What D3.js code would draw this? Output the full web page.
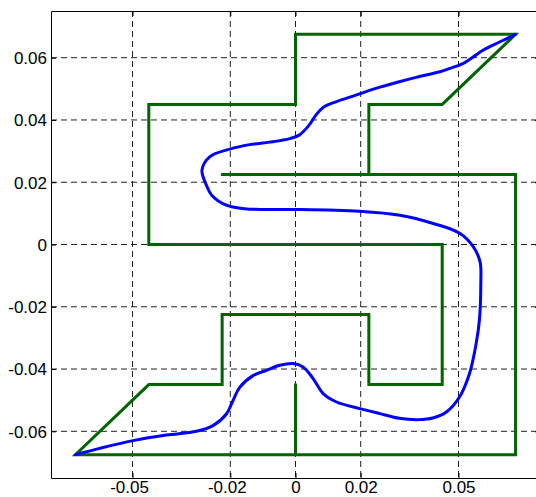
<!DOCTYPE html>
<html>
<head>
<meta charset="utf-8">
<script src="https://cdn.jsdelivr.net/npm/d3@7"></script>
<style>
  html, body { margin: 0; padding: 0; background: #fff; }
  svg { display: block; }
  text { font-family: "Liberation Sans", Arial, Helvetica, sans-serif; }
</style>
</head>
<body>
<svg id="chart" width="536" height="497"></svg>
<script>
// ---- data ----
const xTicks = [-0.05, -0.02, 0, 0.02, 0.05];
const xTickLabels = ["-0.05", "-0.02", "0", "0.02", "0.05"];
const yTicks = [0.06, 0.04, 0.02, 0, -0.02, -0.04, -0.06];
const yTickLabels = ["0.06", "0.04", "0.02", "0", "-0.02", "-0.04", "-0.06"];

// green outline ("5" shape), vertices
const shapeX = [-0.0225, 0.0675, 0.0675, -0.0675, -0.045, -0.0225, -0.0225, 0.0225, 0.0225, 0.045, 0.045, -0.045, -0.045, 0, 0, 0.0675, 0.045, 0.0225, 0.0225];
const shapeY = [0.0225, 0.0225, -0.0675, -0.0675, -0.045, -0.045, -0.0225, -0.0225, -0.045, -0.045, 0, 0, 0.045, 0.045, 0.0675, 0.0675, 0.045, 0.045, 0.0225];
// separate short green segment
const stemX = [0, 0];
const stemY = [-0.045, -0.0675];

// blue curve
const curveX = [0.0675, 0.06276, 0.05763, 0.05456, 0.05149, 0.04740, 0.04433, 0.03696, 0.03183, 0.02467,
  0.01853, 0.01238, 0.00879, 0.00624, 0.00418, 0.00111, -0.00175, -0.00790, -0.01404, -0.02018,
  -0.02633, -0.02869, -0.02734, -0.02571, -0.02120, -0.01558, -0.00891, 0.00111, 0.01954, 0.03204,
  0.04227, 0.05048, 0.05456, 0.05662, 0.05684, 0.05641, 0.05539, 0.05333, 0.05026, 0.04618,
  0.04209, 0.03797, 0.03183, 0.02590, 0.01975, 0.01260, 0.00848, 0.00541, 0.00233, -0.00074,
  -0.00482, -0.00912, -0.01303, -0.01711, -0.01917, -0.02120, -0.02531, -0.03041, -0.03963, -0.04989,
  -0.06012, -0.0675];
const curveY = [0.0675, 0.06512, 0.06246, 0.06030, 0.05818, 0.05657, 0.05548, 0.05368, 0.05227, 0.05014,
  0.04799, 0.04584, 0.04423, 0.04156, 0.03835, 0.03513, 0.03401, 0.03288, 0.03208, 0.03063,
  0.02816, 0.02388, 0.01906, 0.01585, 0.01263, 0.01151, 0.01125, 0.01125, 0.01070, 0.00942,
  0.00675, 0.00354, -0.00077, -0.00559, -0.01254, -0.02433, -0.03195, -0.04159, -0.04908, -0.05391,
  -0.05574, -0.05625, -0.05583, -0.05432, -0.05272, -0.05059, -0.04789, -0.04307, -0.03934, -0.03825,
  -0.03880, -0.04050, -0.04211, -0.04587, -0.05014, -0.05445, -0.05818, -0.06001, -0.06120, -0.06300,
  -0.06548, -0.0675];

// ---- layout ----
const svg = d3.select("#chart");
const L = 51, R = 540, T = 11, B = 478;
const x = d3.scaleLinear().domain([-0.075, 0.075]).range([L, R]);
const y = d3.scaleLinear().domain([-0.075, 0.075]).range([B, T]);

svg.append("rect").attr("width", 536).attr("height", 497).attr("fill", "#fff");

// grid
const grid = svg.append("g").attr("stroke", "#222").attr("stroke-width", 1)
  .attr("stroke-dasharray", "6,4").attr("fill", "none");
grid.selectAll("line.vx").data(xTicks).join("line")
  .attr("x1", d => x(d)).attr("x2", d => x(d)).attr("y1", T).attr("y2", B);
grid.selectAll("line.hy").data(yTicks).join("line")
  .attr("class", "hy")
  .attr("y1", d => y(d)).attr("y2", d => y(d)).attr("x1", L).attr("x2", R);

// axes with inward ticks
const tickLen = 5;
const axB = svg.append("g").attr("transform", `translate(0,${B})`)
  .call(d3.axisBottom(x).tickValues(xTicks).tickSizeInner(-tickLen).tickSizeOuter(0).tickFormat((d, i) => xTickLabels[i]));
const axT = svg.append("g").attr("transform", `translate(0,${T})`)
  .call(d3.axisTop(x).tickValues(xTicks).tickSizeInner(-tickLen).tickSizeOuter(0).tickFormat(""));
const axL = svg.append("g").attr("transform", `translate(${L},0)`)
  .call(d3.axisLeft(y).tickValues(yTicks).tickSizeInner(-tickLen).tickSizeOuter(0).tickFormat((d, i) => yTickLabels[i]));
const axR = svg.append("g").attr("transform", `translate(${R},0)`)
  .call(d3.axisRight(y).tickValues(yTicks).tickSizeInner(-tickLen).tickSizeOuter(0).tickFormat(""));

[axB, axT, axL, axR].forEach(a => {
  a.selectAll(".domain").attr("stroke", "#000").attr("stroke-width", 1);
  a.selectAll(".tick line").attr("stroke", "#000");
  a.selectAll("text").attr("fill", "#000").style("font-size", "17px")
    .style("font-family", '"Liberation Sans", Arial, Helvetica, sans-serif');
});
axB.selectAll(".tick text").attr("y", null).attr("dy", null)
  .attr("transform", "translate(0,15)")
  .attr("dx", d => d < 0 ? -3.5 : 0);
axL.selectAll(".tick text").attr("x", -4).attr("dy", "0.35em");

// data
const line = d3.line().x(d => x(d[0])).y(d => y(d[1]));
const shapePts = shapeX.map((v, i) => [v, shapeY[i]]);
const stemPts = stemX.map((v, i) => [v, stemY[i]]);
const curvePts = curveX.map((v, i) => [v, curveY[i]]);

svg.append("path").datum(shapePts).attr("d", line)
  .attr("fill", "none").attr("stroke", "#006400").attr("stroke-width", 3)
  .attr("stroke-linejoin", "miter").attr("stroke-linecap", "round");
svg.append("path").datum(stemPts).attr("d", line)
  .attr("fill", "none").attr("stroke", "#006400").attr("stroke-width", 3)
  .attr("stroke-linecap", "round");

svg.append("path").datum(curvePts).attr("d", line.curve(d3.curveCatmullRom.alpha(0.5)))
  .attr("fill", "none").attr("stroke", "#0000ff").attr("stroke-width", 3)
  .attr("stroke-linejoin", "round").attr("stroke-linecap", "round");
</script>
</body>
</html>
